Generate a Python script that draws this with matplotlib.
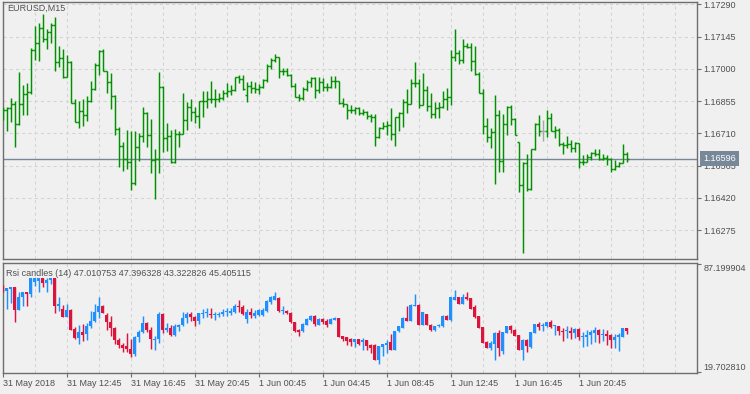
import numpy as np
import matplotlib
matplotlib.use('Agg')
from matplotlib import pyplot as plt

# EURUSD M15 bars (first bar sits on the left border)
opens = [
    1.16790, 1.16815, 1.16822, 1.16840, 1.16752, 1.16840, 1.16886, 1.16896, 1.17085, 1.17115,
    1.17182, 1.17134, 1.17164, 1.17198, 1.17032, 1.17048, 1.16962, 1.17031, 1.16848, 1.16762,
    1.16809, 1.16790, 1.16857, 1.16908, 1.17018, 1.17080, 1.16992, 1.16942, 1.16878, 1.16730,
    1.16653, 1.16594, 1.16580, 1.16488, 1.16648, 1.16698, 1.16800, 1.16702, 1.16590, 1.16593,
    1.16920, 1.16688, 1.16698, 1.16582, 1.16706, 1.16708, 1.16770, 1.16827, 1.16804, 1.16788,
    1.16857, 1.16856, 1.16863, 1.16864, 1.16866, 1.16870, 1.16890, 1.16902, 1.16905, 1.16962,
    1.16953, 1.16882, 1.16923, 1.16912, 1.16908, 1.16917, 1.16950, 1.17013, 1.17040, 1.17052,
    1.16990, 1.16988, 1.16974, 1.16924, 1.16872, 1.16868, 1.16908, 1.16942, 1.16958, 1.16905,
    1.16942, 1.16920, 1.16917, 1.16946, 1.16944, 1.16845, 1.16840, 1.16815, 1.16814, 1.16822,
    1.16800, 1.16804, 1.16788, 1.16782, 1.16692, 1.16732, 1.16743, 1.16748, 1.16706, 1.16782,
    1.16800, 1.16852, 1.16840, 1.16935, 1.16936, 1.16836, 1.16906, 1.16833, 1.16796, 1.16822,
    1.16826, 1.16864, 1.16872, 1.17052, 1.17073, 1.17040, 1.17103, 1.17100, 1.17037, 1.16977,
    1.16893, 1.16743, 1.16695, 1.16714, 1.16791, 1.16584, 1.16752, 1.16827, 1.16776, 1.16672,
    1.16478, 1.16575, 1.16458, 1.16638, 1.16752, 1.16718, 1.16718, 1.16778, 1.16722, 1.16725,
    1.16662, 1.16658, 1.16660, 1.16646, 1.16665, 1.16580, 1.16583, 1.16602, 1.16623, 1.16617,
    1.16593, 1.16598, 1.16593, 1.16548, 1.16564, 1.16575, 1.16617,
]
highs = [
    1.16830, 1.16827, 1.16868, 1.16856, 1.16986, 1.16928, 1.16935, 1.17092, 1.17193, 1.17208,
    1.17247, 1.17178, 1.17208, 1.17232, 1.17103, 1.17088, 1.17062, 1.17037, 1.16864, 1.16857,
    1.16863, 1.16878, 1.16947, 1.17025, 1.17085, 1.17090, 1.16992, 1.16980, 1.16882, 1.16740,
    1.16672, 1.16725, 1.16718, 1.16720, 1.16713, 1.16826, 1.16804, 1.16776, 1.16640, 1.16986,
    1.16923, 1.16755, 1.16725, 1.16730, 1.16718, 1.16890, 1.16850, 1.16864, 1.16827, 1.16857,
    1.16898, 1.16902, 1.16946, 1.16908, 1.16893, 1.16905, 1.16935, 1.16928, 1.16965, 1.16972,
    1.16970, 1.16942, 1.16947, 1.16942, 1.16932, 1.16954, 1.17020, 1.17050, 1.17067, 1.17055,
    1.17002, 1.17002, 1.16977, 1.16935, 1.16886, 1.16917, 1.16950, 1.16965, 1.16962, 1.16962,
    1.16958, 1.16938, 1.16968, 1.16968, 1.16947, 1.16868, 1.16842, 1.16838, 1.16830, 1.16827,
    1.16818, 1.16810, 1.16796, 1.16796, 1.16740, 1.16760, 1.16767, 1.16822, 1.16785, 1.16804,
    1.16864, 1.16908, 1.16954, 1.17032, 1.16953, 1.16983, 1.16923, 1.16893, 1.16852, 1.16852,
    1.16902, 1.16912, 1.17085, 1.17180, 1.17085, 1.17134, 1.17115, 1.17118, 1.17104, 1.16986,
    1.16908, 1.16778, 1.16732, 1.16882, 1.16815, 1.16797, 1.16833, 1.16838, 1.16778, 1.16672,
    1.16582, 1.16617, 1.16640, 1.16755, 1.16792, 1.16770, 1.16815, 1.16800, 1.16743, 1.16732,
    1.16672, 1.16698, 1.16680, 1.16672, 1.16665, 1.16612, 1.16617, 1.16628, 1.16638, 1.16638,
    1.16617, 1.16612, 1.16598, 1.16590, 1.16580, 1.16662, 1.16628,
]
lows = [
    1.16770, 1.16718, 1.16762, 1.16647, 1.16748, 1.16792, 1.16790, 1.16887, 1.17040, 1.17037,
    1.17122, 1.17090, 1.17115, 1.16988, 1.17010, 1.16960, 1.16962, 1.16848, 1.16760, 1.16732,
    1.16743, 1.16767, 1.16852, 1.16905, 1.16972, 1.16992, 1.16893, 1.16818, 1.16700, 1.16560,
    1.16542, 1.16548, 1.16455, 1.16478, 1.16586, 1.16672, 1.16650, 1.16533, 1.16413, 1.16533,
    1.16628, 1.16632, 1.16575, 1.16578, 1.16647, 1.16706, 1.16725, 1.16767, 1.16755, 1.16732,
    1.16785, 1.16822, 1.16845, 1.16827, 1.16852, 1.16860, 1.16872, 1.16882, 1.16898, 1.16935,
    1.16905, 1.16852, 1.16893, 1.16893, 1.16886, 1.16912, 1.16942, 1.17000, 1.17032, 1.16960,
    1.16972, 1.16968, 1.16917, 1.16872, 1.16857, 1.16860, 1.16898, 1.16917, 1.16870, 1.16890,
    1.16898, 1.16900, 1.16912, 1.16912, 1.16840, 1.16827, 1.16773, 1.16800, 1.16796, 1.16792,
    1.16792, 1.16773, 1.16762, 1.16654, 1.16690, 1.16728, 1.16702, 1.16680, 1.16654, 1.16718,
    1.16737, 1.16800, 1.16840, 1.16920, 1.16822, 1.16836, 1.16812, 1.16778, 1.16778, 1.16778,
    1.16822, 1.16815, 1.16838, 1.17037, 1.17022, 1.17028, 1.17092, 1.16992, 1.16972, 1.16890,
    1.16707, 1.16672, 1.16646, 1.16480, 1.16538, 1.16538, 1.16702, 1.16748, 1.16700, 1.16448,
    1.16170, 1.16452, 1.16455, 1.16635, 1.16698, 1.16677, 1.16695, 1.16720, 1.16690, 1.16654,
    1.16616, 1.16642, 1.16628, 1.16624, 1.16552, 1.16568, 1.16582, 1.16590, 1.16608, 1.16590,
    1.16590, 1.16568, 1.16538, 1.16545, 1.16557, 1.16575, 1.16582,
]
closes = [
    1.16815, 1.16822, 1.16840, 1.16752, 1.16840, 1.16886, 1.16896, 1.17085, 1.17115, 1.17182,
    1.17134, 1.17164, 1.17198, 1.17032, 1.17048, 1.16962, 1.17031, 1.16848, 1.16762, 1.16809,
    1.16790, 1.16857, 1.16908, 1.17018, 1.17080, 1.16992, 1.16942, 1.16878, 1.16730, 1.16653,
    1.16594, 1.16580, 1.16488, 1.16648, 1.16698, 1.16800, 1.16702, 1.16590, 1.16593, 1.16920,
    1.16688, 1.16698, 1.16582, 1.16706, 1.16708, 1.16770, 1.16827, 1.16804, 1.16788, 1.16857,
    1.16856, 1.16863, 1.16864, 1.16866, 1.16870, 1.16890, 1.16902, 1.16905, 1.16962, 1.16953,
    1.16908, 1.16923, 1.16912, 1.16908, 1.16917, 1.16950, 1.17013, 1.17040, 1.17052, 1.16990,
    1.16988, 1.16974, 1.16924, 1.16872, 1.16868, 1.16908, 1.16942, 1.16958, 1.16905, 1.16942,
    1.16920, 1.16917, 1.16946, 1.16944, 1.16845, 1.16840, 1.16815, 1.16814, 1.16822, 1.16800,
    1.16804, 1.16788, 1.16782, 1.16692, 1.16732, 1.16743, 1.16748, 1.16706, 1.16782, 1.16800,
    1.16852, 1.16840, 1.16935, 1.16936, 1.16836, 1.16906, 1.16833, 1.16796, 1.16822, 1.16826,
    1.16864, 1.16872, 1.17052, 1.17073, 1.17040, 1.17103, 1.17100, 1.17037, 1.16977, 1.16893,
    1.16743, 1.16695, 1.16714, 1.16791, 1.16584, 1.16752, 1.16827, 1.16776, 1.16701, 1.16478,
    1.16575, 1.16458, 1.16638, 1.16752, 1.16718, 1.16718, 1.16778, 1.16722, 1.16725, 1.16662,
    1.16658, 1.16660, 1.16646, 1.16665, 1.16580, 1.16582, 1.16602, 1.16623, 1.16617, 1.16593,
    1.16598, 1.16593, 1.16548, 1.16564, 1.16575, 1.16617, 1.16596,
]

# Rsi candles (14)
rsi_open = [
    73.7, 70.6, 71.7, 73.1, 58.2, 66.3, 70.0, 68.6, 76.0, 76.5,
    78.3, 75.6, 77.3, 78.3, 60.7, 59.0, 54.1, 58.2, 46.5, 41.0,
    44.8, 43.5, 48.2, 51.5, 57.2, 60.7, 55.5, 51.0, 47.5, 40.0,
    36.5, 36.0, 34.0, 30.7, 41.6, 44.8, 50.4, 46.0, 40.0, 40.6,
    56.2, 46.2, 47.5, 43.0, 48.0, 48.8, 53.5, 56.0, 53.8, 51.8,
    56.2, 56.4, 56.0, 55.1, 55.5, 56.0, 57.0, 56.5, 57.2, 61.1,
    60.6, 53.0, 57.2, 54.9, 55.5, 55.1, 58.0, 63.2, 64.8, 65.9,
    58.0, 58.0, 56.5, 50.7, 46.2, 45.2, 49.3, 52.4, 54.9, 49.3,
    53.0, 51.5, 49.9, 52.4, 53.4, 42.0, 41.4, 40.4, 38.5, 40.4,
    38.3, 39.4, 36.5, 36.5, 27.5, 35.2, 36.5, 38.5, 33.7, 45.2,
    47.2, 53.4, 51.8, 61.1, 61.7, 49.3, 55.9, 49.3, 45.8, 48.3,
    48.3, 54.9, 52.0, 64.8, 66.3, 62.2, 66.3, 65.9, 60.1, 54.5,
    47.6, 38.5, 34.8, 37.0, 44.1, 33.1, 44.1, 48.7, 46.2, 42.7,
    33.7, 40.0, 35.2, 44.1, 49.7, 48.3, 48.3, 50.7, 48.3, 48.3,
    45.6, 45.2, 45.6, 44.1, 46.6, 41.4, 41.4, 42.7, 44.1, 46.2,
    42.7, 43.5, 43.1, 40.0, 41.4, 41.8, 47.010753,
]
rsi_high = [
    74.2, 72.1, 73.1, 73.1, 70.0, 70.0, 70.0, 78.3, 78.3, 78.3,
    78.3, 78.3, 78.3, 78.3, 66.5, 61.5, 62.0, 59.0, 48.0, 48.8,
    49.5, 50.4, 58.0, 62.5, 66.5, 61.5, 56.6, 55.0, 48.0, 41.0,
    38.0, 44.0, 40.5, 42.0, 46.0, 55.0, 50.8, 48.0, 42.0, 57.0,
    56.6, 50.5, 49.0, 49.5, 50.0, 57.0, 57.5, 57.5, 54.8, 56.8,
    59.0, 59.5, 59.6, 57.5, 57.0, 59.0, 60.0, 59.8, 62.0, 64.8,
    61.5, 59.0, 59.6, 58.6, 59.0, 59.6, 64.5, 67.0, 70.0, 66.5,
    60.7, 58.5, 57.0, 51.0, 46.5, 50.2, 53.5, 55.5, 55.5, 53.5,
    53.5, 53.0, 53.4, 54.0, 53.6, 42.3, 41.8, 40.8, 40.6, 40.6,
    41.0, 39.8, 37.0, 37.0, 36.0, 37.5, 39.4, 43.5, 45.5, 48.7,
    53.8, 60.7, 62.0, 68.4, 62.0, 57.2, 56.2, 49.6, 48.6, 49.6,
    55.2, 55.2, 66.6, 71.0, 66.6, 68.4, 70.0, 66.2, 61.7, 54.8,
    47.9, 38.8, 38.9, 45.0, 46.0, 45.0, 48.6, 49.0, 46.5, 43.0,
    40.3, 40.3, 45.0, 50.0, 50.9, 50.3, 51.0, 52.4, 49.0, 48.6,
    47.2, 48.3, 47.8, 47.2, 46.9, 44.7, 46.2, 46.2, 47.8, 46.5,
    46.6, 46.2, 43.4, 43.5, 44.1, 47.5, 47.396328,
]
rsi_low = [
    70.0, 59.2, 62.8, 50.7, 58.2, 60.7, 60.7, 66.3, 73.5, 70.0,
    73.1, 70.0, 75.0, 56.5, 58.0, 53.8, 54.0, 46.2, 40.5, 37.5,
    38.9, 40.0, 47.5, 51.0, 53.5, 56.6, 46.0, 42.0, 37.0, 34.8,
    32.5, 32.5, 29.0, 30.0, 38.5, 44.0, 44.5, 34.0, 33.7, 38.0,
    44.0, 45.0, 42.5, 42.5, 45.5, 48.5, 50.5, 51.5, 48.7, 50.0,
    53.5, 54.0, 53.5, 52.5, 54.0, 54.5, 55.0, 55.3, 56.5, 57.5,
    55.5, 50.6, 53.5, 53.4, 54.5, 54.5, 57.5, 62.0, 64.5, 57.5,
    55.9, 56.0, 50.5, 44.8, 42.5, 44.8, 49.0, 51.8, 48.5, 48.9,
    50.0, 47.6, 49.5, 52.0, 41.4, 38.9, 36.5, 35.8, 35.2, 36.5,
    33.7, 33.3, 31.7, 27.0, 24.9, 30.0, 31.7, 33.5, 33.3, 44.8,
    47.0, 51.5, 51.5, 60.8, 49.0, 49.0, 49.0, 45.5, 45.5, 47.9,
    48.0, 52.0, 51.7, 64.5, 61.9, 61.9, 64.9, 58.9, 53.5, 46.9,
    37.6, 34.5, 33.7, 27.1, 30.0, 31.0, 43.8, 44.1, 42.2, 33.4,
    26.9, 32.1, 34.4, 43.8, 46.2, 45.2, 48.0, 47.5, 43.1, 43.1,
    38.9, 41.0, 40.4, 41.0, 40.0, 35.2, 35.8, 36.9, 38.5, 37.9,
    38.9, 36.5, 34.4, 34.4, 33.1, 41.5, 43.322826,
]
rsi_close = [
    70.4, 72.1, 73.1, 58.6, 66.5, 70.0, 68.6, 78.3, 78.3, 78.3,
    75.6, 77.3, 78.3, 60.7, 62.2, 54.1, 58.2, 46.2, 41.0, 44.8,
    42.7, 48.2, 51.8, 57.2, 60.7, 56.6, 51.0, 47.2, 40.0, 36.5,
    34.4, 34.0, 30.7, 41.6, 44.8, 50.4, 46.0, 40.4, 40.6, 56.2,
    46.2, 47.5, 43.0, 48.5, 48.8, 53.5, 56.0, 53.8, 51.8, 56.5,
    56.4, 57.0, 55.1, 55.5, 56.0, 57.0, 57.6, 57.8, 61.1, 60.1,
    55.9, 57.2, 55.5, 56.5, 58.6, 58.6, 64.2, 66.3, 66.9, 58.0,
    58.6, 56.5, 50.7, 45.2, 44.5, 49.9, 52.8, 54.9, 50.0, 53.0,
    50.7, 49.3, 52.8, 53.4, 41.6, 40.4, 38.9, 38.5, 40.4, 37.3,
    39.4, 36.2, 34.8, 27.5, 35.8, 37.3, 37.9, 33.7, 45.2, 48.3,
    53.4, 51.8, 61.7, 61.7, 49.3, 56.9, 49.3, 45.8, 48.3, 49.3,
    54.9, 52.4, 66.3, 66.3, 62.2, 66.3, 65.2, 59.2, 53.8, 47.2,
    37.9, 34.8, 37.9, 44.1, 34.4, 44.7, 48.3, 46.2, 42.5, 33.7,
    40.0, 35.8, 44.7, 49.7, 47.8, 48.7, 50.7, 47.8, 48.7, 45.2,
    45.2, 46.2, 44.1, 46.8, 41.4, 41.8, 43.1, 44.7, 46.2, 43.1,
    43.5, 42.0, 39.4, 41.8, 42.7, 47.2, 45.405115,
]

price_levels = [1.16275, 1.16420, 1.16565, 1.16710, 1.16855, 1.17000, 1.17145, 1.17290]
rsi_levels = [19.702810, 87.199904]
time_labels = ["31 May 2018", "31 May 12:45", "31 May 16:45", "31 May 20:45", "1 Jun 00:45",
               "1 Jun 04:45", "1 Jun 08:45", "1 Jun 12:45", "1 Jun 16:45", "1 Jun 20:45"]
last_price = 1.16596

BG = '#f0f0f0'
GRID = '#d3d3d3'
FRAME = '#6e6e6e'
TXT = '#505050'
FS = 6.5
LW = 1.05
plt.rcParams['font.family'] = ['Liberation Sans', 'DejaVu Sans']

o = np.array(opens)
h = np.array(highs)
l = np.array(lows)
c = np.array(closes)
x = np.arange(len(o))

ro = np.array(rsi_open)
rh = np.array(rsi_high)
rl = np.array(rsi_low)
rc = np.array(rsi_close)

W, H = 750, 394
fig = plt.figure(figsize=(W / 100, H / 100), dpi=100, facecolor=BG)
ax1 = fig.add_axes([2.5 / W, 1 - 259 / H, 694.5 / W, 256.7 / H])
ax2 = fig.add_axes([2.5 / W, 1 - 373 / H, 694.5 / W, 110 / H])

xlim = (-0.05, -0.05 + 694.5 / 4)
grid_x = np.arange(8, 174, 8)

for ax in (ax1, ax2):
    ax.set_facecolor(BG)
    ax.set_xlim(*xlim)
    for s in ax.spines.values():
        s.set_color(FRAME)
        s.set_linewidth(1.0)
    ax.vlines(grid_x, 0, 1, transform=ax.get_xaxis_transform(), colors=GRID,
              linewidth=0.75, linestyles=(0, (3, 3)), zorder=0)
    ax.yaxis.tick_right()
    ax.tick_params(axis='y', length=3, width=0.8, color=FRAME, pad=1.5,
                   labelsize=FS, labelcolor=TXT)

# ---- price panel
ax1.set_ylim(1.161446, 1.172990)
ax1.hlines(price_levels, *xlim, colors=GRID, linewidth=0.75,
           linestyles=(0, (3, 3)), zorder=0)

doji = o == c
bar_col = np.where(doji, '#a8a8a8', '#009000')
ax1.vlines(x, l, h, colors=bar_col, linewidth=LW, zorder=3)
ax1.hlines(o, x - 0.5, x, colors=bar_col, linewidth=LW, zorder=3)
ax1.hlines(c, x, x + 0.5, colors=bar_col, linewidth=LW, zorder=3)

ax1.axhline(last_price, color='#778899', linewidth=1.0, zorder=2)

ax1.set_yticks(price_levels)
ax1.set_yticklabels(['%.5f' % v for v in price_levels])
ax1.set_xticks([])
ax1.annotate('%.5f' % last_price, xy=(1, last_price), xycoords=('axes fraction', 'data'),
             xytext=(4.3, 0), textcoords='offset points', va='center', ha='left',
             fontsize=FS, color='white', zorder=10, annotation_clip=False,
             bbox=dict(boxstyle='square,pad=0.35', facecolor='#778899', edgecolor='none'))
ax1.text(4.5 / 694.5, 1 - 6.5 / 256.7, 'EURUSD,M15', transform=ax1.transAxes,
         fontsize=FS, color=TXT, va='center', ha='left')

# ---- rsi candles panel
ax2.set_ylim(19.702810 - 0.625, 87.199904 + 0.625)
up = rc >= ro
ccol = np.where(up, '#1e90ff', '#dc143c')
ax2.vlines(x, rl, rh, colors=ccol, linewidth=LW, zorder=3)
body = rc - ro
body = np.where(np.abs(body) < 0.6, np.where(up, 0.6, -0.6), body)
ax2.bar(x, body, bottom=ro, width=0.7, color=ccol, linewidth=0, antialiased=False, zorder=4)

ax2.set_yticks(rsi_levels)
ax2.set_yticklabels(['%.6f' % v for v in rsi_levels])
lbls = ax2.get_yticklabels()
lbls[0].set_verticalalignment('bottom')
lbls[1].set_verticalalignment('top')

ax2.set_xticks(np.arange(len(time_labels)) * 16)
ax2.set_xticklabels(time_labels, ha='left')
ax2.tick_params(axis='x', length=3, width=0.8, color=FRAME, pad=1.5,
                labelsize=FS, labelcolor=TXT)

ax2.text(3.5 / 694.5, 1 - 10 / 110,
         'Rsi candles (14) %.6f %.6f %.6f %.6f' % (rsi_open[-1], rsi_high[-1], rsi_low[-1], rsi_close[-1]),
         transform=ax2.transAxes, fontsize=FS, color=TXT, va='center', ha='left', zorder=6)

fig.savefig('out.png', dpi=100, facecolor=BG)
